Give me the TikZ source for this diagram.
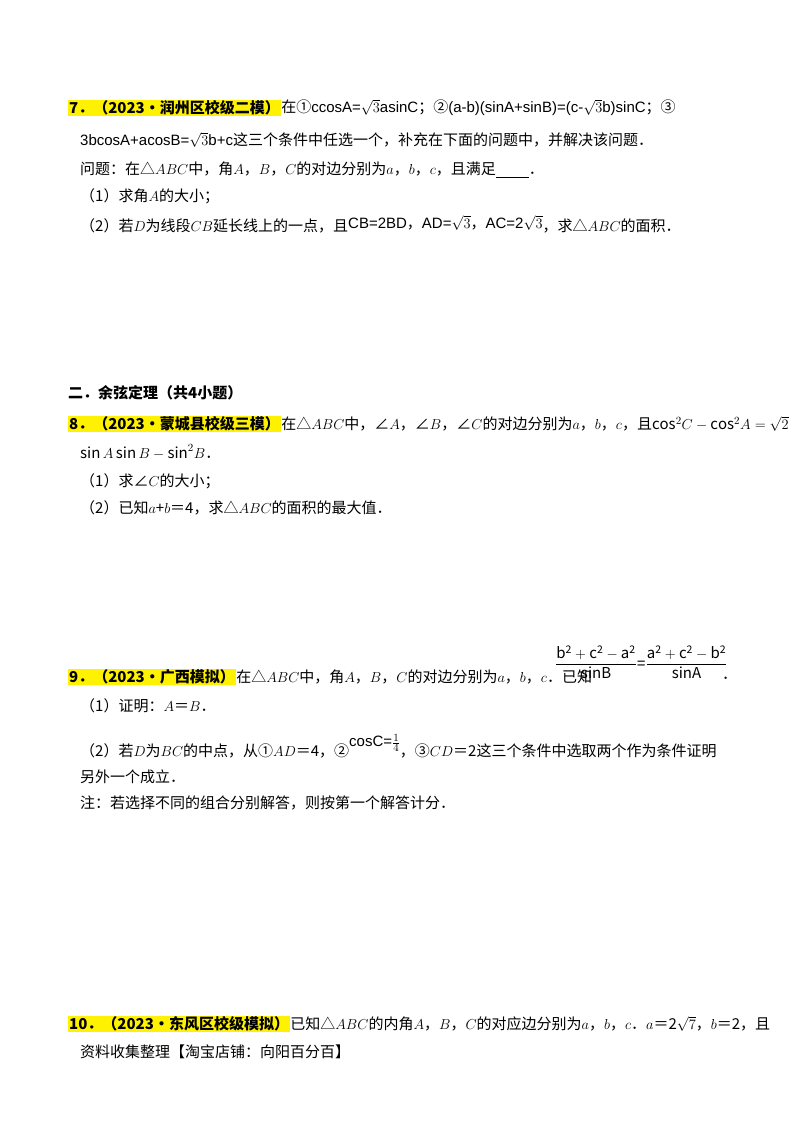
\documentclass[tikz,border=0pt]{standalone}
\usepackage{amsmath}
\usepackage{fontspec}
\setmainfont{Noto Sans CJK SC}
\newfontfamily\lsans{Liberation Sans}
\begin{document}
\begin{tikzpicture}[x=1pt,y=-1pt,
  t/.style={anchor=west,inner sep=0pt,font=\fontsize{15}{17}\selectfont},
  hl/.style={fill=yellow,inner sep=1pt,anchor=west,font=\fontsize{15}{17}\selectfont\bfseries}]
\useasboundingbox[fill=white] (0,0) rectangle (800,1132);
% problem 7
\node[hl] (h7) at (68,108) {7．（2023•润州区校级二模）};
\node[t] (l71) at (h7.east) {在①{\lsans ccosA=$\sqrt{3}$asinC}；②{\lsans (a-b)(sinA+sinB)=(c-$\sqrt{3}$b)sinC}；③};
\node[t] (l72) at (80,140) {{\lsans 3bcosA+acosB=$\sqrt{3}$b+c}这三个条件中任选一个，补充在下面的问题中，并解决该问题．};
\node[t] (l73) at (80,170) {问题：在△$ABC$中，角$A$，$B$，$C$的对边分别为$a$，$b$，$c$，且满足\underline{\hspace{2.2em}}．};
\node[t] (l74) at (80,196) {（1）求角$A$的大小；};
\node[t] (l75) at (80,224) {（2）若$D$为线段$CB$延长线上的一点，且\raisebox{0.35ex}{{\lsans CB=2BD}，{\lsans AD=$\sqrt{3}$}，{\lsans AC=2$\sqrt{3}$}}，求△$ABC$的面积．};
% section
\node[t,font=\fontsize{15}{17}\selectfont\bfseries] (sec) at (68,393) {二．余弦定理（共4小题）};
% problem 8
\node[hl] (h8) at (68,424) {8．（2023•蒙城县校级三模）};
\node[t] (l81) at (h8.east) {在△$ABC$中，∠$A$，∠$B$，∠$C$的对边分别为$a$，$b$，$c$，且$\cos^2\!C-\cos^2\!A=\sqrt{2}$};
\node[t] (l82) at (80,452) {$\sin A\sin B-\sin^2\!B$．};
\node[t] (l83) at (80,481) {（1）求∠$C$的大小；};
\node[t] (l84) at (80,508) {（2）已知$a$+$b$＝4，求△$ABC$的面积的最大值．};
% problem 9
\node[hl] (h9) at (68,677) {9．（2023•广西模拟）};
\node[t] (l91) at (h9.east) {在△$ABC$中，角$A$，$B$，$C$的对边分别为$a$，$b$，$c$．已知};
\node[t] (f9) at (555,662) {\lsans\fontsize{15}{17}\selectfont$\dfrac{\mathrm{b^2+c^2-a^2}}{\mathrm{sinB}}$=$\dfrac{\mathrm{a^2+c^2-b^2}}{\mathrm{sinA}}$};
\node[t] (d9) at (722,678) {．};
\node[t] (l92) at (80,706) {（1）证明：$A$＝$B$．};
\node[t] (l93) at (80,746) {（2）若$D$为$BC$的中点，从①$AD$＝4，②\raisebox{1.2ex}{\lsans cosC=$\frac{1}{4}$}，③$CD$＝2这三个条件中选取两个作为条件证明};
\node[t] (l94) at (80,777) {另外一个成立．};
\node[t] (l95) at (80,803) {注：若选择不同的组合分别解答，则按第一个解答计分．};
% problem 10
\node[hl] (h10) at (68,1024) {10．（2023•东风区校级模拟）};
\node[t] (l101) at (h10.east) {已知△$ABC$的内角$A$，$B$，$C$的对应边分别为$a$，$b$，$c$．$a$＝2$\sqrt{7}$，$b$＝2，且};
\node[t] (foot) at (80,1052) {资料收集整理【淘宝店铺：向阳百分百】};
\end{tikzpicture}
\end{document}
